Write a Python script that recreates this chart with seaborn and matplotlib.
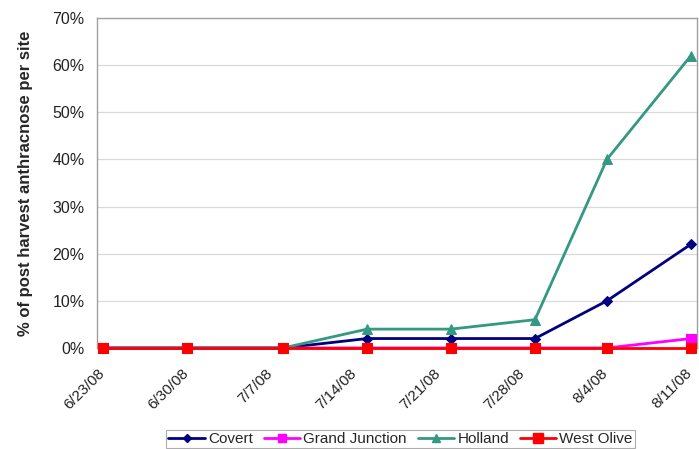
import matplotlib
matplotlib.use("Agg")
import matplotlib.pyplot as plt
from matplotlib.ticker import FuncFormatter, MultipleLocator
import seaborn as sns
import pandas as pd

dates = ["2008-06-23", "2008-06-30", "2008-07-08", "2008-07-15",
         "2008-07-22", "2008-07-29", "2008-08-04", "2008-08-11"]
tick_dates = ["2008-06-23", "2008-06-30", "2008-07-07", "2008-07-14",
              "2008-07-21", "2008-07-28", "2008-08-04", "2008-08-11"]
tick_labels = ["6/23/08", "6/30/08", "7/7/08", "7/14/08",
               "7/21/08", "7/28/08", "8/4/08", "8/11/08"]
covert = [0, 0, 0, 2, 2, 2, 10, 22]
grand_junction = [0, 0, 0, 0, 0, 0, 0, 2]
holland = [0, 0, 0, 4, 4, 6, 40, 62]
west_olive = [0, 0, 0, 0, 0, 0, 0, 0]

series = {"Covert": covert, "Grand Junction": grand_junction,
          "Holland": holland, "West Olive": west_olive}
styles = {
    "Covert": dict(color="#000080", marker="D", ms=5),
    "Grand Junction": dict(color="#FF00FF", marker="s", ms=7),
    "Holland": dict(color="#339980", marker="^", ms=6.5),
    "West Olive": dict(color="#FF0000", marker="s", ms=7.5),
}

rows = []
for name, vals in series.items():
    for d, v in zip(dates, vals):
        rows.append({"date": pd.Timestamp(d) + pd.Timedelta(hours=12),
                     "site": name, "pct": v})
df = pd.DataFrame(rows)

sns.set_style("white")
plt.rcParams["font.family"] = ["Liberation Sans", "DejaVu Sans"]

fig = plt.figure(figsize=(6.99, 4.49), dpi=100)
ax = fig.add_axes([0.139, 0.225, 0.858, 0.735])

handles = []
for name in series:
    st = styles[name]
    sub = df[df["site"] == name]
    sns.lineplot(data=sub, x="date", y="pct", ax=ax, color=st["color"],
                 marker=st["marker"], markersize=st["ms"],
                 markeredgecolor=st["color"], linewidth=2, label=name,
                 legend=False, clip_on=False, zorder=3)
    handles.append(plt.Line2D([], [], color=st["color"], marker=st["marker"],
                              markersize=st["ms"] * 0.9, linewidth=2,
                              markeredgecolor=st["color"], label=name))

ax.set_xlim(pd.Timestamp("2008-06-23"), pd.Timestamp("2008-08-12"))
ax.set_ylim(0, 70)
ax.yaxis.set_major_locator(MultipleLocator(10))
ax.yaxis.set_major_formatter(FuncFormatter(lambda v, p: f"{int(v)}%"))
ax.set_xticks([pd.Timestamp(t) for t in tick_dates])
ax.set_xticklabels(tick_labels, rotation=45, ha="right",
                   rotation_mode="anchor", fontsize=11)
ax.tick_params(axis="x", length=4, color="#999999", pad=9, labelcolor="#222222")
ax.tick_params(axis="y", length=4, color="#999999", labelsize=11.5,
               labelcolor="#222222", pad=5)
ax.yaxis.grid(True, color="#d9d9d9", linewidth=0.9)
ax.set_axisbelow(True)
for sp in ax.spines.values():
    sp.set_color("#a0a0a0")
    sp.set_linewidth(1)
    sp.set_zorder(1)
ax.set_xlabel("")
ax.set_ylabel("% of post harvest anthracnose per site", fontsize=12,
              fontweight="bold", labelpad=14)

leg = fig.legend(handles=handles, loc="upper center", ncol=4,
                 bbox_to_anchor=(0.573, 0.043), frameon=True, fontsize=11,
                 handlelength=2.4, handletextpad=0.2, columnspacing=0.7,
                 borderpad=0.15, borderaxespad=0, fancybox=False,
                 edgecolor="#999999")
leg.get_frame().set_linewidth(0.8)

fig.savefig("out.png", dpi=100)
